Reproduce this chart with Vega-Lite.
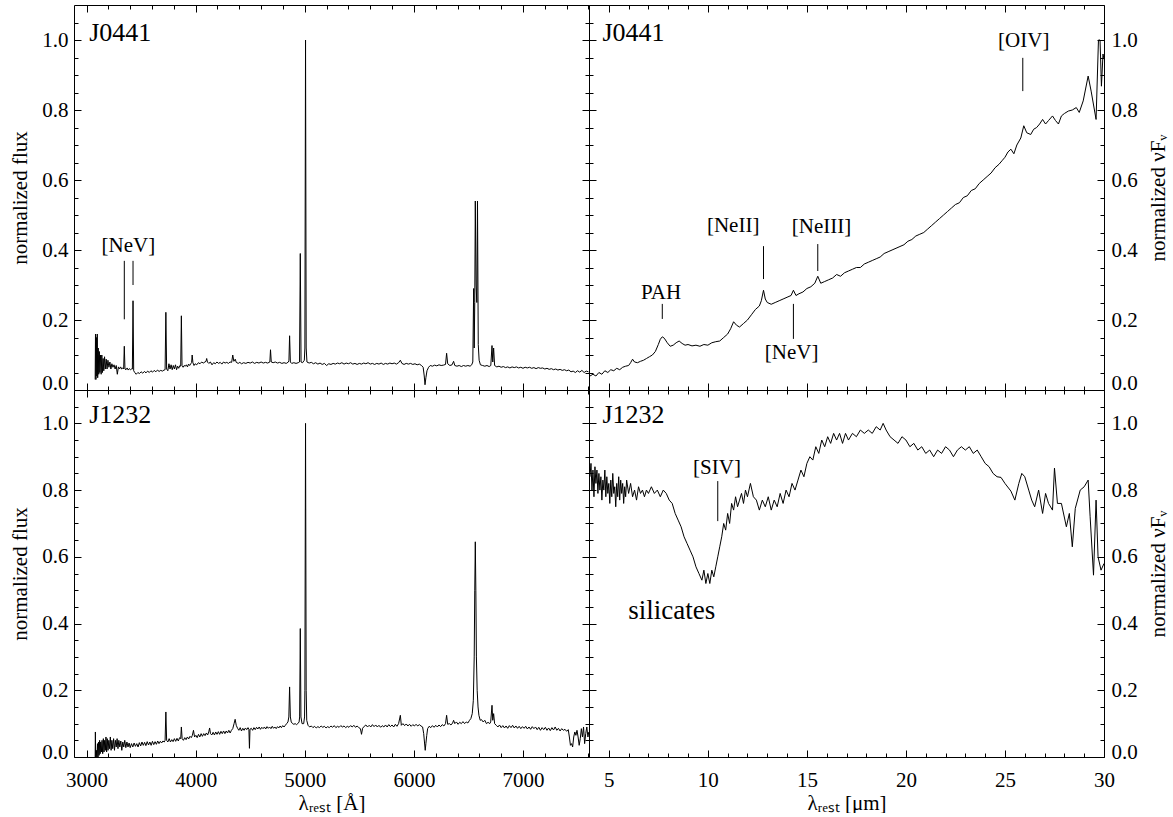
{
"$schema": "https://vega.github.io/schema/vega-lite/v6.json",
"background": "white",
"padding": {"left": 9, "top": 4, "right": 0, "bottom": 0},
"config": {
  "view": {"stroke": null},
  "axis": {"domain": false, "domainColor": "black", "domainWidth": 1, "grid": false, "tickColor": "black", "tickWidth": 1, "labelFont": "Liberation Serif", "labelFontSize": 21, "labelColor": "black", "titleFont": "Liberation Serif", "titleFontSize": 21, "titleFontWeight": "normal", "titleColor": "black", "labelOverlap": false, "labelFlush": false, "labelBound": false},
  "text": {"font": "Liberation Serif", "color": "black"}
},
"datasets": {
"lab": [
{"p":"TL","k":"name","x":3024,"y":1.019,"t":"J0441"},
{"p":"TL","k":"ann","x":3383,"y":0.411,"t":"[NeV]"},
{"p":"TR","k":"name","x":4.68,"y":1.019,"t":"J0441"},
{"p":"TR","k":"ann","x":7.64,"y":0.277,"t":"PAH"},
{"p":"TR","k":"ann","x":11.28,"y":0.469,"t":"[NeII]"},
{"p":"TR","k":"ann","x":15.74,"y":0.466,"t":"[NeIII]"},
{"p":"TR","k":"ann","x":14.23,"y":0.106,"t":"[NeV]"},
{"p":"TR","k":"ann","x":25.95,"y":0.997,"t":"[OIV]"},
{"p":"BL","k":"name","x":3024,"y":1.025,"t":"J1232"},
{"p":"BR","k":"name","x":4.68,"y":1.025,"t":"J1232"},
{"p":"BR","k":"ann","x":10.46,"y":0.866,"t":"[SIV]"},
{"p":"BR","k":"big","x":8.18,"y":0.438,"t":"silicates"}
],
"tk": [
{"p":"TL","x":3346,"y":0.202,"y2":0.369},
{"p":"TL","x":3426,"y":0.30,"y2":0.369},
{"p":"TR","x":7.7,"y":0.203,"y2":0.246},
{"p":"TR","x":12.81,"y":0.317,"y2":0.411},
{"p":"TR","x":15.55,"y":0.34,"y2":0.417},
{"p":"TR","x":14.32,"y":0.146,"y2":0.246},
{"p":"TR","x":25.9,"y":0.854,"y2":0.949},
{"p":"BR","x":10.5,"y":0.707,"y2":0.827}
],
"o1": [
{"x":3079,"y":0.03},{"x":3082,"y":0.16},{"x":3086,"y":0.03},{"x":3090,"y":0.15},{"x":3094,"y":0.04},{"x":3098,"y":0.16},{"x":3102,"y":0.035},{"x":3107,"y":0.12},{"x":3112,"y":0.045},{"x":3117,"y":0.11},{"x":3122,"y":0.05},{"x":3128,"y":0.1},{"x":3134,"y":0.045},{"x":3140,"y":0.1},{"x":3146,"y":0.05},{"x":3152,"y":0.09},{"x":3158,"y":0.055},{"x":3165,"y":0.095},{"x":3172,"y":0.06},{"x":3180,"y":0.088},{"x":3188,"y":0.06},{"x":3196,"y":0.085},{"x":3205,"y":0.065},{"x":3214,"y":0.08},{"x":3223,"y":0.06},{"x":3232,"y":0.075},{"x":3242,"y":0.065},{"x":3252,"y":0.072},{"x":3262,"y":0.06},{"x":3272,"y":0.07},{"x":3282,"y":0.045},{"x":3292,"y":0.066},{"x":3302,"y":0.06},{"x":3312,"y":0.066},{"x":3322,"y":0.06},{"x":3332,"y":0.063},{"x":3340,"y":0.06},{"x":3346,"y":0.125},{"x":3352,"y":0.06},{"x":3362,"y":0.058},{"x":3372,"y":0.063},{"x":3382,"y":0.057},{"x":3392,"y":0.061},{"x":3402,"y":0.058},{"x":3412,"y":0.06},{"x":3420,"y":0.06},{"x":3426,"y":0.255},{"x":3432,"y":0.055},{"x":3442,"y":0.05},{"x":3455,"y":0.045},{"x":3470,"y":0.05},{"x":3485,"y":0.047},{"x":3500,"y":0.052},{"x":3515,"y":0.048},{"x":3530,"y":0.053},{"x":3545,"y":0.049},{"x":3560,"y":0.054},{"x":3575,"y":0.05},{"x":3590,"y":0.055},{"x":3605,"y":0.051},{"x":3620,"y":0.056},{"x":3635,"y":0.052},{"x":3650,"y":0.057},{"x":3665,"y":0.053},{"x":3680,"y":0.056},{"x":3695,"y":0.054},{"x":3710,"y":0.057},{"x":3720,"y":0.058},{"x":3727,"y":0.222},{"x":3734,"y":0.06},{"x":3745,"y":0.055},{"x":3755,"y":0.075},{"x":3765,"y":0.06},{"x":3775,"y":0.072},{"x":3785,"y":0.058},{"x":3795,"y":0.07},{"x":3805,"y":0.06},{"x":3815,"y":0.072},{"x":3825,"y":0.058},{"x":3835,"y":0.068},{"x":3845,"y":0.062},{"x":3855,"y":0.07},{"x":3863,"y":0.068},{"x":3869,"y":0.212},{"x":3875,"y":0.07},{"x":3885,"y":0.065},{"x":3895,"y":0.07},{"x":3905,"y":0.068},{"x":3915,"y":0.072},{"x":3925,"y":0.066},{"x":3935,"y":0.074},{"x":3945,"y":0.07},{"x":3955,"y":0.075},{"x":3963,"y":0.078},{"x":3968,"y":0.1},{"x":3975,"y":0.078},{"x":3985,"y":0.07},{"x":3995,"y":0.075},{"x":4010,"y":0.072},{"x":4025,"y":0.078},{"x":4040,"y":0.075},{"x":4055,"y":0.08},{"x":4070,"y":0.077},{"x":4085,"y":0.08},{"x":4095,"y":0.082},{"x":4101,"y":0.09},{"x":4108,"y":0.08},{"x":4120,"y":0.076},{"x":4135,"y":0.08},{"x":4150,"y":0.072},{"x":4165,"y":0.078},{"x":4180,"y":0.075},{"x":4195,"y":0.08},{"x":4210,"y":0.076},{"x":4225,"y":0.079},{"x":4240,"y":0.074},{"x":4255,"y":0.08},{"x":4270,"y":0.077},{"x":4285,"y":0.079},{"x":4300,"y":0.076},{"x":4315,"y":0.08},{"x":4330,"y":0.079},{"x":4340,"y":0.1},{"x":4350,"y":0.082},{"x":4363,"y":0.088},{"x":4372,"y":0.079},{"x":4390,"y":0.076},{"x":4405,"y":0.079},{"x":4420,"y":0.075},{"x":4440,"y":0.078},{"x":4460,"y":0.076},{"x":4480,"y":0.079},{"x":4500,"y":0.077},{"x":4520,"y":0.08},{"x":4540,"y":0.076},{"x":4560,"y":0.079},{"x":4580,"y":0.077},{"x":4600,"y":0.08},{"x":4620,"y":0.077},{"x":4640,"y":0.079},{"x":4660,"y":0.077},{"x":4680,"y":0.08},{"x":4686,"y":0.115},{"x":4693,"y":0.08},{"x":4710,"y":0.078},{"x":4730,"y":0.08},{"x":4750,"y":0.077},{"x":4770,"y":0.079},{"x":4790,"y":0.076},{"x":4810,"y":0.078},{"x":4830,"y":0.076},{"x":4850,"y":0.08},{"x":4855,"y":0.085},{"x":4861,"y":0.155},{"x":4868,"y":0.08},{"x":4880,"y":0.076},{"x":4900,"y":0.078},{"x":4920,"y":0.076},{"x":4940,"y":0.078},{"x":4952,"y":0.08},{"x":4959,"y":0.39},{"x":4966,"y":0.08},{"x":4980,"y":0.078},{"x":4996,"y":0.085},{"x":5001,"y":0.12},{"x":5007,"y":1.0},{"x":5013,"y":0.12},{"x":5020,"y":0.08},{"x":5040,"y":0.077},{"x":5060,"y":0.079},{"x":5080,"y":0.075},{"x":5100,"y":0.078},{"x":5120,"y":0.074},{"x":5140,"y":0.077},{"x":5160,"y":0.073},{"x":5180,"y":0.076},{"x":5200,"y":0.07},{"x":5220,"y":0.075},{"x":5240,"y":0.073},{"x":5260,"y":0.076},{"x":5280,"y":0.074},{"x":5300,"y":0.077},{"x":5320,"y":0.075},{"x":5340,"y":0.078},{"x":5360,"y":0.074},{"x":5380,"y":0.077},{"x":5400,"y":0.075},{"x":5420,"y":0.078},{"x":5440,"y":0.074},{"x":5460,"y":0.076},{"x":5480,"y":0.073},{"x":5500,"y":0.076},{"x":5520,"y":0.074},{"x":5540,"y":0.077},{"x":5560,"y":0.075},{"x":5580,"y":0.078},{"x":5600,"y":0.074},{"x":5620,"y":0.076},{"x":5640,"y":0.073},{"x":5660,"y":0.076},{"x":5680,"y":0.074},{"x":5700,"y":0.077},{"x":5720,"y":0.073},{"x":5740,"y":0.076},{"x":5760,"y":0.074},{"x":5780,"y":0.077},{"x":5800,"y":0.075},{"x":5820,"y":0.077},{"x":5840,"y":0.074},{"x":5860,"y":0.078},{"x":5876,"y":0.085},{"x":5890,"y":0.076},{"x":5910,"y":0.073},{"x":5930,"y":0.076},{"x":5950,"y":0.074},{"x":5970,"y":0.076},{"x":5990,"y":0.073},{"x":6010,"y":0.075},{"x":6030,"y":0.072},{"x":6050,"y":0.074},{"x":6070,"y":0.07},{"x":6085,"y":0.065},{"x":6095,"y":0.04},{"x":6102,"y":0.015},{"x":6110,"y":0.035},{"x":6120,"y":0.055},{"x":6135,"y":0.065},{"x":6150,"y":0.07},{"x":6170,"y":0.068},{"x":6190,"y":0.071},{"x":6210,"y":0.069},{"x":6230,"y":0.072},{"x":6250,"y":0.07},{"x":6270,"y":0.071},{"x":6290,"y":0.073},{"x":6300,"y":0.105},{"x":6310,"y":0.075},{"x":6330,"y":0.07},{"x":6350,"y":0.072},{"x":6364,"y":0.082},{"x":6375,"y":0.07},{"x":6395,"y":0.068},{"x":6415,"y":0.07},{"x":6435,"y":0.067},{"x":6455,"y":0.07},{"x":6475,"y":0.068},{"x":6495,"y":0.07},{"x":6515,"y":0.068},{"x":6530,"y":0.072},{"x":6540,"y":0.08},{"x":6548,"y":0.29},{"x":6553,"y":0.12},{"x":6558,"y":0.25},{"x":6563,"y":0.54},{"x":6570,"y":0.3},{"x":6577,"y":0.25},{"x":6583,"y":0.54},{"x":6590,"y":0.13},{"x":6598,"y":0.085},{"x":6610,"y":0.072},{"x":6630,"y":0.07},{"x":6650,"y":0.068},{"x":6670,"y":0.07},{"x":6690,"y":0.067},{"x":6705,"y":0.07},{"x":6716,"y":0.127},{"x":6723,"y":0.08},{"x":6731,"y":0.12},{"x":6740,"y":0.07},{"x":6760,"y":0.066},{"x":6780,"y":0.068},{"x":6800,"y":0.065},{"x":6820,"y":0.067},{"x":6840,"y":0.064},{"x":6860,"y":0.066},{"x":6880,"y":0.063},{"x":6900,"y":0.066},{"x":6920,"y":0.064},{"x":6940,"y":0.066},{"x":6960,"y":0.063},{"x":6980,"y":0.065},{"x":7000,"y":0.062},{"x":7020,"y":0.065},{"x":7040,"y":0.063},{"x":7060,"y":0.065},{"x":7080,"y":0.062},{"x":7100,"y":0.064},{"x":7120,"y":0.061},{"x":7140,"y":0.064},{"x":7160,"y":0.062},{"x":7180,"y":0.063},{"x":7200,"y":0.06},{"x":7220,"y":0.062},{"x":7240,"y":0.059},{"x":7260,"y":0.061},{"x":7280,"y":0.058},{"x":7300,"y":0.06},{"x":7320,"y":0.057},{"x":7340,"y":0.059},{"x":7360,"y":0.056},{"x":7380,"y":0.058},{"x":7400,"y":0.055},{"x":7420,"y":0.057},{"x":7440,"y":0.052},{"x":7460,"y":0.054},{"x":7480,"y":0.05},{"x":7500,"y":0.055},{"x":7520,"y":0.051},{"x":7540,"y":0.056},{"x":7560,"y":0.05},{"x":7580,"y":0.054},{"x":7600,"y":0.052}
],
"o2": [
{"x":3079,"y":0.0},{"x":3081,"y":0.075},{"x":3084,"y":-0.01},{"x":3090,"y":0.02},{"x":3095,"y":-0.01},{"x":3100,"y":0.04},{"x":3105,"y":0.0},{"x":3110,"y":0.045},{"x":3115,"y":0.005},{"x":3120,"y":0.05},{"x":3125,"y":0.01},{"x":3130,"y":0.045},{"x":3136,"y":0.015},{"x":3142,"y":0.05},{"x":3148,"y":0.01},{"x":3154,"y":0.055},{"x":3160,"y":0.015},{"x":3166,"y":0.05},{"x":3172,"y":0.02},{"x":3178,"y":0.06},{"x":3184,"y":0.015},{"x":3190,"y":0.055},{"x":3197,"y":0.02},{"x":3204,"y":0.05},{"x":3211,"y":0.025},{"x":3218,"y":0.06},{"x":3225,"y":0.02},{"x":3232,"y":0.05},{"x":3240,"y":0.025},{"x":3248,"y":0.055},{"x":3256,"y":0.02},{"x":3264,"y":0.05},{"x":3272,"y":0.03},{"x":3280,"y":0.055},{"x":3288,"y":0.025},{"x":3296,"y":0.05},{"x":3305,"y":0.03},{"x":3314,"y":0.048},{"x":3323,"y":0.02},{"x":3332,"y":0.045},{"x":3341,"y":0.03},{"x":3350,"y":0.05},{"x":3360,"y":0.028},{"x":3370,"y":0.045},{"x":3380,"y":0.03},{"x":3390,"y":0.042},{"x":3400,"y":0.028},{"x":3412,"y":0.04},{"x":3424,"y":0.03},{"x":3436,"y":0.042},{"x":3448,"y":0.032},{"x":3460,"y":0.04},{"x":3472,"y":0.03},{"x":3484,"y":0.043},{"x":3496,"y":0.033},{"x":3508,"y":0.045},{"x":3520,"y":0.035},{"x":3532,"y":0.044},{"x":3544,"y":0.034},{"x":3556,"y":0.046},{"x":3568,"y":0.036},{"x":3580,"y":0.045},{"x":3592,"y":0.035},{"x":3604,"y":0.047},{"x":3616,"y":0.037},{"x":3628,"y":0.046},{"x":3640,"y":0.038},{"x":3652,"y":0.048},{"x":3664,"y":0.04},{"x":3676,"y":0.047},{"x":3688,"y":0.042},{"x":3700,"y":0.048},{"x":3712,"y":0.045},{"x":3720,"y":0.05},{"x":3727,"y":0.135},{"x":3734,"y":0.05},{"x":3745,"y":0.045},{"x":3757,"y":0.055},{"x":3769,"y":0.045},{"x":3781,"y":0.052},{"x":3793,"y":0.046},{"x":3805,"y":0.055},{"x":3817,"y":0.047},{"x":3829,"y":0.056},{"x":3841,"y":0.048},{"x":3853,"y":0.058},{"x":3863,"y":0.055},{"x":3869,"y":0.09},{"x":3876,"y":0.055},{"x":3888,"y":0.05},{"x":3900,"y":0.058},{"x":3912,"y":0.052},{"x":3924,"y":0.06},{"x":3936,"y":0.054},{"x":3948,"y":0.062},{"x":3960,"y":0.058},{"x":3970,"y":0.065},{"x":3980,"y":0.08},{"x":3990,"y":0.06},{"x":4002,"y":0.065},{"x":4014,"y":0.058},{"x":4026,"y":0.068},{"x":4038,"y":0.06},{"x":4050,"y":0.07},{"x":4062,"y":0.062},{"x":4074,"y":0.07},{"x":4086,"y":0.064},{"x":4098,"y":0.072},{"x":4110,"y":0.066},{"x":4120,"y":0.075},{"x":4128,"y":0.087},{"x":4136,"y":0.07},{"x":4148,"y":0.066},{"x":4160,"y":0.074},{"x":4172,"y":0.066},{"x":4184,"y":0.075},{"x":4196,"y":0.068},{"x":4208,"y":0.076},{"x":4220,"y":0.068},{"x":4232,"y":0.077},{"x":4244,"y":0.07},{"x":4256,"y":0.078},{"x":4268,"y":0.07},{"x":4280,"y":0.078},{"x":4292,"y":0.072},{"x":4304,"y":0.08},{"x":4316,"y":0.072},{"x":4328,"y":0.08},{"x":4340,"y":0.085},{"x":4352,"y":0.1},{"x":4362,"y":0.113},{"x":4372,"y":0.095},{"x":4384,"y":0.086},{"x":4396,"y":0.08},{"x":4408,"y":0.088},{"x":4420,"y":0.078},{"x":4432,"y":0.086},{"x":4444,"y":0.08},{"x":4456,"y":0.087},{"x":4468,"y":0.082},{"x":4480,"y":0.088},{"x":4488,"y":0.083},{"x":4493,"y":0.026},{"x":4498,"y":0.083},{"x":4510,"y":0.086},{"x":4522,"y":0.08},{"x":4534,"y":0.088},{"x":4546,"y":0.082},{"x":4558,"y":0.089},{"x":4570,"y":0.084},{"x":4582,"y":0.09},{"x":4594,"y":0.083},{"x":4606,"y":0.089},{"x":4618,"y":0.085},{"x":4630,"y":0.09},{"x":4642,"y":0.084},{"x":4654,"y":0.091},{"x":4666,"y":0.086},{"x":4678,"y":0.09},{"x":4690,"y":0.085},{"x":4702,"y":0.092},{"x":4714,"y":0.086},{"x":4726,"y":0.09},{"x":4738,"y":0.085},{"x":4750,"y":0.091},{"x":4762,"y":0.087},{"x":4774,"y":0.093},{"x":4786,"y":0.088},{"x":4798,"y":0.094},{"x":4810,"y":0.09},{"x":4822,"y":0.095},{"x":4834,"y":0.1},{"x":4846,"y":0.105},{"x":4854,"y":0.12},{"x":4861,"y":0.21},{"x":4868,"y":0.12},{"x":4876,"y":0.105},{"x":4888,"y":0.1},{"x":4900,"y":0.098},{"x":4912,"y":0.1},{"x":4924,"y":0.097},{"x":4936,"y":0.1},{"x":4948,"y":0.105},{"x":4953,"y":0.12},{"x":4959,"y":0.385},{"x":4965,"y":0.12},{"x":4975,"y":0.1},{"x":4990,"y":0.1},{"x":4998,"y":0.12},{"x":5001,"y":0.2},{"x":5007,"y":1.0},{"x":5013,"y":0.2},{"x":5018,"y":0.11},{"x":5030,"y":0.095},{"x":5045,"y":0.09},{"x":5060,"y":0.093},{"x":5075,"y":0.088},{"x":5090,"y":0.092},{"x":5105,"y":0.087},{"x":5120,"y":0.091},{"x":5135,"y":0.088},{"x":5150,"y":0.093},{"x":5165,"y":0.089},{"x":5180,"y":0.092},{"x":5195,"y":0.087},{"x":5210,"y":0.091},{"x":5225,"y":0.088},{"x":5240,"y":0.093},{"x":5255,"y":0.089},{"x":5270,"y":0.094},{"x":5285,"y":0.088},{"x":5300,"y":0.092},{"x":5315,"y":0.089},{"x":5330,"y":0.094},{"x":5345,"y":0.09},{"x":5360,"y":0.093},{"x":5375,"y":0.088},{"x":5390,"y":0.092},{"x":5405,"y":0.089},{"x":5420,"y":0.094},{"x":5435,"y":0.09},{"x":5450,"y":0.095},{"x":5465,"y":0.089},{"x":5480,"y":0.093},{"x":5495,"y":0.088},{"x":5510,"y":0.085},{"x":5520,"y":0.068},{"x":5530,"y":0.086},{"x":5545,"y":0.092},{"x":5560,"y":0.096},{"x":5575,"y":0.09},{"x":5590,"y":0.095},{"x":5605,"y":0.09},{"x":5620,"y":0.097},{"x":5635,"y":0.091},{"x":5650,"y":0.096},{"x":5665,"y":0.09},{"x":5680,"y":0.095},{"x":5695,"y":0.089},{"x":5710,"y":0.094},{"x":5725,"y":0.09},{"x":5740,"y":0.096},{"x":5755,"y":0.09},{"x":5770,"y":0.097},{"x":5785,"y":0.091},{"x":5800,"y":0.096},{"x":5815,"y":0.09},{"x":5830,"y":0.098},{"x":5845,"y":0.092},{"x":5860,"y":0.1},{"x":5876,"y":0.125},{"x":5885,"y":0.095},{"x":5900,"y":0.1},{"x":5915,"y":0.094},{"x":5930,"y":0.099},{"x":5945,"y":0.093},{"x":5960,"y":0.098},{"x":5975,"y":0.092},{"x":5990,"y":0.097},{"x":6005,"y":0.093},{"x":6020,"y":0.098},{"x":6035,"y":0.093},{"x":6050,"y":0.097},{"x":6065,"y":0.093},{"x":6080,"y":0.09},{"x":6090,"y":0.07},{"x":6097,"y":0.045},{"x":6104,"y":0.02},{"x":6110,"y":0.04},{"x":6118,"y":0.065},{"x":6126,"y":0.085},{"x":6140,"y":0.092},{"x":6155,"y":0.088},{"x":6170,"y":0.094},{"x":6185,"y":0.089},{"x":6200,"y":0.095},{"x":6215,"y":0.09},{"x":6230,"y":0.096},{"x":6245,"y":0.091},{"x":6260,"y":0.097},{"x":6275,"y":0.093},{"x":6290,"y":0.1},{"x":6300,"y":0.125},{"x":6310,"y":0.098},{"x":6325,"y":0.1},{"x":6340,"y":0.096},{"x":6355,"y":0.102},{"x":6364,"y":0.11},{"x":6375,"y":0.1},{"x":6390,"y":0.105},{"x":6405,"y":0.098},{"x":6420,"y":0.104},{"x":6435,"y":0.1},{"x":6450,"y":0.106},{"x":6465,"y":0.1},{"x":6480,"y":0.105},{"x":6495,"y":0.102},{"x":6510,"y":0.11},{"x":6522,"y":0.115},{"x":6535,"y":0.13},{"x":6545,"y":0.17},{"x":6553,"y":0.3},{"x":6558,"y":0.5},{"x":6563,"y":0.645},{"x":6568,"y":0.5},{"x":6573,"y":0.3},{"x":6580,"y":0.2},{"x":6588,"y":0.15},{"x":6596,"y":0.125},{"x":6608,"y":0.11},{"x":6620,"y":0.112},{"x":6635,"y":0.105},{"x":6650,"y":0.11},{"x":6665,"y":0.1},{"x":6680,"y":0.104},{"x":6695,"y":0.1},{"x":6704,"y":0.105},{"x":6716,"y":0.155},{"x":6723,"y":0.11},{"x":6731,"y":0.13},{"x":6740,"y":0.1},{"x":6755,"y":0.095},{"x":6770,"y":0.09},{"x":6785,"y":0.096},{"x":6800,"y":0.088},{"x":6815,"y":0.094},{"x":6830,"y":0.087},{"x":6845,"y":0.093},{"x":6860,"y":0.086},{"x":6875,"y":0.094},{"x":6890,"y":0.088},{"x":6905,"y":0.095},{"x":6920,"y":0.087},{"x":6935,"y":0.093},{"x":6950,"y":0.086},{"x":6965,"y":0.092},{"x":6980,"y":0.085},{"x":6995,"y":0.091},{"x":7010,"y":0.086},{"x":7025,"y":0.092},{"x":7040,"y":0.084},{"x":7055,"y":0.09},{"x":7070,"y":0.083},{"x":7085,"y":0.091},{"x":7100,"y":0.085},{"x":7115,"y":0.09},{"x":7130,"y":0.082},{"x":7145,"y":0.089},{"x":7160,"y":0.08},{"x":7175,"y":0.088},{"x":7190,"y":0.082},{"x":7205,"y":0.089},{"x":7220,"y":0.08},{"x":7235,"y":0.087},{"x":7250,"y":0.079},{"x":7265,"y":0.088},{"x":7280,"y":0.081},{"x":7295,"y":0.09},{"x":7310,"y":0.08},{"x":7325,"y":0.086},{"x":7340,"y":0.078},{"x":7355,"y":0.085},{"x":7370,"y":0.08},{"x":7385,"y":0.083},{"x":7400,"y":0.077},{"x":7415,"y":0.082},{"x":7425,"y":0.06},{"x":7435,"y":0.035},{"x":7445,"y":0.04},{"x":7455,"y":0.03},{"x":7465,"y":0.06},{"x":7475,"y":0.075},{"x":7485,"y":0.065},{"x":7495,"y":0.08},{"x":7505,"y":0.06},{"x":7515,"y":0.035},{"x":7525,"y":0.055},{"x":7535,"y":0.085},{"x":7545,"y":0.06},{"x":7555,"y":0.09},{"x":7565,"y":0.04},{"x":7575,"y":0.07},{"x":7585,"y":0.09},{"x":7595,"y":0.06},{"x":7603,"y":0.075}
],
"i1": [
{"x":4.05,"y":0.04},{"x":4.2,"y":0.045},{"x":4.35,"y":0.04},{"x":4.5,"y":0.05},{"x":4.65,"y":0.045},{"x":4.8,"y":0.055},{"x":4.95,"y":0.05},{"x":5.1,"y":0.058},{"x":5.25,"y":0.055},{"x":5.4,"y":0.062},{"x":5.55,"y":0.058},{"x":5.7,"y":0.065},{"x":5.85,"y":0.068},{"x":6.0,"y":0.07},{"x":6.1,"y":0.078},{"x":6.2,"y":0.088},{"x":6.3,"y":0.08},{"x":6.45,"y":0.078},{"x":6.6,"y":0.082},{"x":6.75,"y":0.085},{"x":6.9,"y":0.09},{"x":7.05,"y":0.095},{"x":7.2,"y":0.1},{"x":7.35,"y":0.11},{"x":7.5,"y":0.13},{"x":7.6,"y":0.145},{"x":7.7,"y":0.152},{"x":7.8,"y":0.148},{"x":7.95,"y":0.135},{"x":8.1,"y":0.125},{"x":8.25,"y":0.128},{"x":8.4,"y":0.135},{"x":8.55,"y":0.14},{"x":8.7,"y":0.133},{"x":8.85,"y":0.128},{"x":9.0,"y":0.13},{"x":9.2,"y":0.126},{"x":9.4,"y":0.128},{"x":9.6,"y":0.125},{"x":9.8,"y":0.13},{"x":10.0,"y":0.128},{"x":10.2,"y":0.135},{"x":10.4,"y":0.138},{"x":10.6,"y":0.14},{"x":10.8,"y":0.15},{"x":11.0,"y":0.16},{"x":11.15,"y":0.175},{"x":11.3,"y":0.195},{"x":11.45,"y":0.185},{"x":11.6,"y":0.18},{"x":11.8,"y":0.19},{"x":12.0,"y":0.2},{"x":12.2,"y":0.215},{"x":12.4,"y":0.23},{"x":12.6,"y":0.24},{"x":12.7,"y":0.255},{"x":12.81,"y":0.285},{"x":12.9,"y":0.26},{"x":13.0,"y":0.25},{"x":13.2,"y":0.245},{"x":13.4,"y":0.25},{"x":13.6,"y":0.255},{"x":13.8,"y":0.26},{"x":14.0,"y":0.265},{"x":14.2,"y":0.27},{"x":14.32,"y":0.285},{"x":14.45,"y":0.27},{"x":14.6,"y":0.275},{"x":14.8,"y":0.28},{"x":15.0,"y":0.29},{"x":15.2,"y":0.295},{"x":15.4,"y":0.305},{"x":15.55,"y":0.325},{"x":15.7,"y":0.305},{"x":15.9,"y":0.31},{"x":16.1,"y":0.315},{"x":16.3,"y":0.32},{"x":16.5,"y":0.33},{"x":16.7,"y":0.325},{"x":16.9,"y":0.335},{"x":17.1,"y":0.34},{"x":17.3,"y":0.345},{"x":17.5,"y":0.35},{"x":17.7,"y":0.35},{"x":17.9,"y":0.36},{"x":18.1,"y":0.365},{"x":18.3,"y":0.37},{"x":18.5,"y":0.375},{"x":18.7,"y":0.38},{"x":18.9,"y":0.39},{"x":19.1,"y":0.395},{"x":19.3,"y":0.4},{"x":19.5,"y":0.405},{"x":19.7,"y":0.41},{"x":19.9,"y":0.415},{"x":20.1,"y":0.425},{"x":20.3,"y":0.43},{"x":20.5,"y":0.44},{"x":20.7,"y":0.445},{"x":20.9,"y":0.45},{"x":21.1,"y":0.46},{"x":21.3,"y":0.47},{"x":21.5,"y":0.48},{"x":21.7,"y":0.49},{"x":21.9,"y":0.5},{"x":22.1,"y":0.51},{"x":22.3,"y":0.52},{"x":22.5,"y":0.53},{"x":22.7,"y":0.535},{"x":22.9,"y":0.55},{"x":23.1,"y":0.555},{"x":23.3,"y":0.57},{"x":23.5,"y":0.575},{"x":23.7,"y":0.59},{"x":23.9,"y":0.6},{"x":24.1,"y":0.61},{"x":24.3,"y":0.62},{"x":24.5,"y":0.635},{"x":24.7,"y":0.645},{"x":24.85,"y":0.655},{"x":25.0,"y":0.665},{"x":25.15,"y":0.68},{"x":25.3,"y":0.688},{"x":25.45,"y":0.675},{"x":25.6,"y":0.7},{"x":25.8,"y":0.72},{"x":25.95,"y":0.755},{"x":26.1,"y":0.735},{"x":26.3,"y":0.73},{"x":26.45,"y":0.745},{"x":26.6,"y":0.75},{"x":26.75,"y":0.76},{"x":26.9,"y":0.773},{"x":27.05,"y":0.76},{"x":27.2,"y":0.77},{"x":27.4,"y":0.783},{"x":27.55,"y":0.77},{"x":27.7,"y":0.76},{"x":27.85,"y":0.783},{"x":28.0,"y":0.79},{"x":28.2,"y":0.797},{"x":28.4,"y":0.8},{"x":28.6,"y":0.807},{"x":28.75,"y":0.793},{"x":28.95,"y":0.826},{"x":29.2,"y":0.897},{"x":29.35,"y":0.854},{"x":29.6,"y":0.773},{"x":29.72,"y":1.0},{"x":29.8,"y":1.0},{"x":29.87,"y":0.868},{"x":29.95,"y":0.96},{"x":30.0,"y":0.945}
],
"i2": [
{"x":4.05,"y":0.84},{"x":4.1,"y":0.88},{"x":4.15,"y":0.8},{"x":4.2,"y":0.86},{"x":4.25,"y":0.78},{"x":4.3,"y":0.87},{"x":4.35,"y":0.82},{"x":4.4,"y":0.86},{"x":4.45,"y":0.79},{"x":4.5,"y":0.85},{"x":4.55,"y":0.8},{"x":4.6,"y":0.84},{"x":4.65,"y":0.77},{"x":4.7,"y":0.83},{"x":4.75,"y":0.8},{"x":4.8,"y":0.86},{"x":4.85,"y":0.78},{"x":4.9,"y":0.84},{"x":4.95,"y":0.79},{"x":5.0,"y":0.82},{"x":5.05,"y":0.76},{"x":5.1,"y":0.83},{"x":5.15,"y":0.78},{"x":5.2,"y":0.85},{"x":5.25,"y":0.79},{"x":5.3,"y":0.81},{"x":5.35,"y":0.75},{"x":5.4,"y":0.82},{"x":5.45,"y":0.78},{"x":5.5,"y":0.84},{"x":5.55,"y":0.77},{"x":5.6,"y":0.83},{"x":5.65,"y":0.79},{"x":5.7,"y":0.82},{"x":5.75,"y":0.76},{"x":5.8,"y":0.81},{"x":5.85,"y":0.78},{"x":5.9,"y":0.83},{"x":6.0,"y":0.79},{"x":6.1,"y":0.82},{"x":6.2,"y":0.78},{"x":6.3,"y":0.8},{"x":6.4,"y":0.77},{"x":6.5,"y":0.81},{"x":6.6,"y":0.79},{"x":6.7,"y":0.8},{"x":6.8,"y":0.78},{"x":6.9,"y":0.8},{"x":7.0,"y":0.79},{"x":7.15,"y":0.81},{"x":7.3,"y":0.79},{"x":7.45,"y":0.8},{"x":7.6,"y":0.78},{"x":7.75,"y":0.8},{"x":7.9,"y":0.79},{"x":8.05,"y":0.77},{"x":8.2,"y":0.76},{"x":8.35,"y":0.73},{"x":8.5,"y":0.71},{"x":8.65,"y":0.69},{"x":8.8,"y":0.66},{"x":8.95,"y":0.64},{"x":9.1,"y":0.62},{"x":9.25,"y":0.6},{"x":9.4,"y":0.57},{"x":9.55,"y":0.55},{"x":9.7,"y":0.53},{"x":9.8,"y":0.56},{"x":9.9,"y":0.52},{"x":10.0,"y":0.55},{"x":10.1,"y":0.52},{"x":10.2,"y":0.56},{"x":10.3,"y":0.54},{"x":10.4,"y":0.57},{"x":10.5,"y":0.6},{"x":10.6,"y":0.63},{"x":10.7,"y":0.66},{"x":10.8,"y":0.7},{"x":10.9,"y":0.68},{"x":11.0,"y":0.73},{"x":11.1,"y":0.7},{"x":11.2,"y":0.76},{"x":11.3,"y":0.74},{"x":11.4,"y":0.78},{"x":11.5,"y":0.75},{"x":11.6,"y":0.77},{"x":11.7,"y":0.79},{"x":11.8,"y":0.76},{"x":11.9,"y":0.8},{"x":12.0,"y":0.78},{"x":12.15,"y":0.82},{"x":12.3,"y":0.78},{"x":12.45,"y":0.77},{"x":12.6,"y":0.74},{"x":12.75,"y":0.77},{"x":12.9,"y":0.75},{"x":13.05,"y":0.78},{"x":13.2,"y":0.74},{"x":13.35,"y":0.77},{"x":13.5,"y":0.75},{"x":13.65,"y":0.79},{"x":13.8,"y":0.76},{"x":13.95,"y":0.8},{"x":14.1,"y":0.78},{"x":14.25,"y":0.82},{"x":14.4,"y":0.8},{"x":14.55,"y":0.83},{"x":14.7,"y":0.86},{"x":14.85,"y":0.84},{"x":15.0,"y":0.88},{"x":15.15,"y":0.9},{"x":15.3,"y":0.89},{"x":15.45,"y":0.93},{"x":15.6,"y":0.91},{"x":15.75,"y":0.95},{"x":15.9,"y":0.93},{"x":16.05,"y":0.96},{"x":16.2,"y":0.94},{"x":16.35,"y":0.97},{"x":16.5,"y":0.95},{"x":16.65,"y":0.97},{"x":16.8,"y":0.94},{"x":16.95,"y":0.97},{"x":17.1,"y":0.95},{"x":17.3,"y":0.97},{"x":17.5,"y":0.96},{"x":17.7,"y":0.98},{"x":17.9,"y":0.97},{"x":18.1,"y":0.98},{"x":18.3,"y":0.97},{"x":18.5,"y":0.99},{"x":18.7,"y":0.98},{"x":18.85,"y":1.0},{"x":19.0,"y":0.98},{"x":19.2,"y":0.96},{"x":19.4,"y":0.95},{"x":19.6,"y":0.94},{"x":19.8,"y":0.96},{"x":20.0,"y":0.95},{"x":20.2,"y":0.93},{"x":20.4,"y":0.94},{"x":20.6,"y":0.92},{"x":20.8,"y":0.93},{"x":21.0,"y":0.91},{"x":21.2,"y":0.92},{"x":21.4,"y":0.9},{"x":21.6,"y":0.92},{"x":21.8,"y":0.91},{"x":22.0,"y":0.93},{"x":22.2,"y":0.92},{"x":22.4,"y":0.9},{"x":22.6,"y":0.92},{"x":22.8,"y":0.93},{"x":23.0,"y":0.92},{"x":23.2,"y":0.93},{"x":23.4,"y":0.91},{"x":23.6,"y":0.92},{"x":23.8,"y":0.9},{"x":24.0,"y":0.88},{"x":24.2,"y":0.87},{"x":24.4,"y":0.85},{"x":24.6,"y":0.84},{"x":24.8,"y":0.838},{"x":25.0,"y":0.82},{"x":25.3,"y":0.797},{"x":25.5,"y":0.77},{"x":25.7,"y":0.82},{"x":25.85,"y":0.85},{"x":26.0,"y":0.84},{"x":26.2,"y":0.8},{"x":26.35,"y":0.77},{"x":26.5,"y":0.75},{"x":26.7,"y":0.8},{"x":26.9,"y":0.73},{"x":27.05,"y":0.79},{"x":27.2,"y":0.76},{"x":27.4,"y":0.74},{"x":27.5,"y":0.866},{"x":27.65,"y":0.76},{"x":27.85,"y":0.76},{"x":28.1,"y":0.69},{"x":28.25,"y":0.73},{"x":28.4,"y":0.63},{"x":28.55,"y":0.745},{"x":28.8,"y":0.8},{"x":29.0,"y":0.81},{"x":29.2,"y":0.83},{"x":29.3,"y":0.72},{"x":29.47,"y":0.545},{"x":29.6,"y":0.77},{"x":29.7,"y":0.6},{"x":29.85,"y":0.56},{"x":30.0,"y":0.58}
]
},
"columns": 2,
"spacing": 0,
"bounds": "flush",
"concat": [
 {"width": 515, "height": 385, "resolve": {"axis": {"x": "independent", "y": "independent"}},
  "layer": [
   {"data": {"name": "o1"}, "mark": {"type": "line", "color": "black", "strokeWidth": 1, "clip": true},
    "encoding": {
     "x": {"field": "x", "type": "quantitative", "scale": {"domain": [2885, 7605], "nice": false}, "axis": {"orient": "bottom", "domain": true, "values": [3000,4000,5000,6000,7000], "tickSize": -7, "labels": false, "title": null}},
     "y": {"field": "y", "type": "quantitative", "scale": {"domain": [0, 1.1], "nice": false}, "axis": {"orient": "left", "domain": true, "values": [0,0.2,0.4,0.6,0.8,1.0], "tickSize": -7, "format": ".1f", "labelPadding": 13, "labelOffset": {"condition": {"test": "datum.value === 0", "value": -7}, "value": 0}, "title": "normalized flux", "titlePadding": 11}}}},
   {"data": {"name": "lab"}, "transform": [{"filter": "datum.p == 'TL' && datum.k == 'name'"}], "mark": {"type": "text", "fontSize": 26, "align": "left", "baseline": "middle"},
    "encoding": {
     "x": {"field": "x", "type": "quantitative", "scale": {"domain": [2885, 7605], "nice": false}, "axis": {"orient": "bottom", "values": [3200,3400,3600,3800,4200,4400,4600,4800,5200,5400,5600,5800,6200,6400,6600,6800,7200,7400,7600], "tickSize": -4, "labels": false, "title": null}},
     "y": {"field": "y", "type": "quantitative", "scale": {"domain": [0, 1.1], "nice": false}, "axis": {"orient": "left", "values": [0.05,0.1,0.15,0.25,0.3,0.35,0.45,0.5,0.55,0.65,0.7,0.75,0.85,0.9,0.95,1.05], "tickSize": -4, "labels": false, "title": null}},
     "text": {"field": "t"}}},
   {"data": {"name": "tk"}, "transform": [{"filter": "datum.p == 'TL'"}], "mark": {"type": "rule", "color": "black", "strokeWidth": 1},
    "encoding": {
     "x": {"field": "x", "type": "quantitative", "scale": {"domain": [2885, 7605], "nice": false}, "axis": {"orient": "top", "domain": true, "values": [3000,4000,5000,6000,7000], "tickSize": -7, "labels": false, "title": null}},
     "y": {"field": "y", "type": "quantitative", "scale": {"domain": [0, 1.1], "nice": false}, "axis": {"orient": "right", "domain": true, "values": [0,0.2,0.4,0.6,0.8,1.0], "tickSize": -7, "labels": false, "title": null}},
     "y2": {"field": "y2"}}},
   {"data": {"name": "lab"}, "transform": [{"filter": "datum.p == 'TL' && datum.k == 'ann'"}], "mark": {"type": "text", "fontSize": 21, "align": "center", "baseline": "middle"},
    "encoding": {
     "x": {"field": "x", "type": "quantitative", "scale": {"domain": [2885, 7605], "nice": false}, "axis": {"orient": "top", "values": [3200,3400,3600,3800,4200,4400,4600,4800,5200,5400,5600,5800,6200,6400,6600,6800,7200,7400,7600], "tickSize": -4, "labels": false, "title": null}},
     "y": {"field": "y", "type": "quantitative", "scale": {"domain": [0, 1.1], "nice": false}, "axis": {"orient": "right", "values": [0.05,0.1,0.15,0.25,0.3,0.35,0.45,0.5,0.55,0.65,0.7,0.75,0.85,0.9,0.95,1.05], "tickSize": -4, "labels": false, "title": null}},
     "text": {"field": "t"}}}
  ]},
 {"width": 515, "height": 385, "resolve": {"axis": {"x": "independent", "y": "independent"}},
  "layer": [
   {"data": {"name": "i1"}, "mark": {"type": "line", "color": "black", "strokeWidth": 1, "clip": true},
    "encoding": {
     "x": {"field": "x", "type": "quantitative", "scale": {"domain": [4, 30], "nice": false}, "axis": {"orient": "bottom", "domain": true, "values": [5,10,15,20,25,30], "tickSize": -7, "labels": false, "title": null}},
     "y": {"field": "y", "type": "quantitative", "scale": {"domain": [0, 1.1], "nice": false}, "axis": {"orient": "right", "domain": true, "values": [0,0.2,0.4,0.6,0.8,1.0], "tickSize": -7, "format": ".1f", "labelPadding": 14, "labelOffset": {"condition": {"test": "datum.value === 0", "value": -7}, "value": 0}, "title": "normalized νFᵥ", "titleAngle": 270, "titlePadding": 31}}}},
   {"data": {"name": "lab"}, "transform": [{"filter": "datum.p == 'TR' && datum.k == 'name'"}], "mark": {"type": "text", "fontSize": 26, "align": "left", "baseline": "middle"},
    "encoding": {
     "x": {"field": "x", "type": "quantitative", "scale": {"domain": [4, 30], "nice": false}, "axis": {"orient": "bottom", "values": [6,7,8,9,11,12,13,14,16,17,18,19,21,22,23,24,26,27,28,29], "tickSize": -4, "labels": false, "title": null}},
     "y": {"field": "y", "type": "quantitative", "scale": {"domain": [0, 1.1], "nice": false}, "axis": {"orient": "right", "values": [0.05,0.1,0.15,0.25,0.3,0.35,0.45,0.5,0.55,0.65,0.7,0.75,0.85,0.9,0.95,1.05], "tickSize": -4, "labels": false, "title": null}},
     "text": {"field": "t"}}},
   {"data": {"name": "tk"}, "transform": [{"filter": "datum.p == 'TR'"}], "mark": {"type": "rule", "color": "black", "strokeWidth": 1},
    "encoding": {
     "x": {"field": "x", "type": "quantitative", "scale": {"domain": [4, 30], "nice": false}, "axis": {"orient": "top", "domain": true, "values": [5,10,15,20,25,30], "tickSize": -7, "labels": false, "title": null}},
     "y": {"field": "y", "type": "quantitative", "scale": {"domain": [0, 1.1], "nice": false}, "axis": {"orient": "left", "domain": true, "values": [0,0.2,0.4,0.6,0.8,1.0], "tickSize": -7, "labels": false, "title": null}},
     "y2": {"field": "y2"}}},
   {"data": {"name": "lab"}, "transform": [{"filter": "datum.p == 'TR' && datum.k == 'ann'"}], "mark": {"type": "text", "fontSize": 21, "align": "center", "baseline": "middle"},
    "encoding": {
     "x": {"field": "x", "type": "quantitative", "scale": {"domain": [4, 30], "nice": false}, "axis": {"orient": "top", "values": [6,7,8,9,11,12,13,14,16,17,18,19,21,22,23,24,26,27,28,29], "tickSize": -4, "labels": false, "title": null}},
     "y": {"field": "y", "type": "quantitative", "scale": {"domain": [0, 1.1], "nice": false}, "axis": {"orient": "left", "values": [0.05,0.1,0.15,0.25,0.3,0.35,0.45,0.5,0.55,0.65,0.7,0.75,0.85,0.9,0.95,1.05], "tickSize": -4, "labels": false, "title": null}},
     "text": {"field": "t"}}}
  ]},
 {"width": 515, "height": 367, "resolve": {"axis": {"x": "independent", "y": "independent"}},
  "layer": [
   {"data": {"name": "o2"}, "mark": {"type": "line", "color": "black", "strokeWidth": 1, "clip": true},
    "encoding": {
     "x": {"field": "x", "type": "quantitative", "scale": {"domain": [2885, 7605], "nice": false}, "axis": {"orient": "bottom", "domain": true, "values": [3000,4000,5000,6000,7000], "tickSize": -7, "labelPadding": 19, "format": "d", "title": "λᵣₑₛₜ [Å]", "titlePadding": 2}},
     "y": {"field": "y", "type": "quantitative", "scale": {"domain": [0, 1.1], "nice": false}, "axis": {"orient": "left", "domain": true, "values": [0,0.2,0.4,0.6,0.8,1.0], "tickSize": -7, "format": ".1f", "labelPadding": 13, "labelOffset": {"condition": {"test": "datum.value === 0", "value": -5}, "value": 0}, "title": "normalized flux", "titlePadding": 11}}}},
   {"data": {"name": "lab"}, "transform": [{"filter": "datum.p == 'BL' && datum.k == 'name'"}], "mark": {"type": "text", "fontSize": 26, "align": "left", "baseline": "middle"},
    "encoding": {
     "x": {"field": "x", "type": "quantitative", "scale": {"domain": [2885, 7605], "nice": false}, "axis": {"orient": "bottom", "values": [3200,3400,3600,3800,4200,4400,4600,4800,5200,5400,5600,5800,6200,6400,6600,6800,7200,7400,7600], "tickSize": -4, "labels": false, "title": null}},
     "y": {"field": "y", "type": "quantitative", "scale": {"domain": [0, 1.1], "nice": false}, "axis": {"orient": "left", "values": [0.05,0.1,0.15,0.25,0.3,0.35,0.45,0.5,0.55,0.65,0.7,0.75,0.85,0.9,0.95,1.05], "tickSize": -4, "labels": false, "title": null}},
     "text": {"field": "t"}}},
   {"data": {"name": "tk"}, "transform": [{"filter": "datum.p == 'BL'"}], "mark": {"type": "rule", "color": "black", "strokeWidth": 1},
    "encoding": {
     "x": {"field": "x", "type": "quantitative", "scale": {"domain": [2885, 7605], "nice": false}, "axis": {"orient": "top", "domain": true, "values": [3000,4000,5000,6000,7000], "tickSize": -7, "labels": false, "title": null}},
     "y": {"field": "y", "type": "quantitative", "scale": {"domain": [0, 1.1], "nice": false}, "axis": {"orient": "right", "domain": true, "values": [0,0.2,0.4,0.6,0.8,1.0], "tickSize": -7, "labels": false, "title": null}},
     "y2": {"field": "y2"}}},
   {"data": {"name": "lab"}, "transform": [{"filter": "datum.p == 'BL' && datum.k == 'ann'"}], "mark": {"type": "text", "fontSize": 21, "align": "center", "baseline": "middle"},
    "encoding": {
     "x": {"field": "x", "type": "quantitative", "scale": {"domain": [2885, 7605], "nice": false}, "axis": {"orient": "top", "values": [3200,3400,3600,3800,4200,4400,4600,4800,5200,5400,5600,5800,6200,6400,6600,6800,7200,7400,7600], "tickSize": -4, "labels": false, "title": null}},
     "y": {"field": "y", "type": "quantitative", "scale": {"domain": [0, 1.1], "nice": false}, "axis": {"orient": "right", "values": [0.05,0.1,0.15,0.25,0.3,0.35,0.45,0.5,0.55,0.65,0.7,0.75,0.85,0.9,0.95,1.05], "tickSize": -4, "labels": false, "title": null}},
     "text": {"field": "t"}}}
  ]},
 {"width": 515, "height": 367, "resolve": {"axis": {"x": "independent", "y": "independent"}},
  "layer": [
   {"data": {"name": "i2"}, "mark": {"type": "line", "color": "black", "strokeWidth": 1, "clip": true},
    "encoding": {
     "x": {"field": "x", "type": "quantitative", "scale": {"domain": [4, 30], "nice": false}, "axis": {"orient": "bottom", "domain": true, "values": [5,10,15,20,25,30], "tickSize": -7, "labelPadding": 19, "format": "d", "title": "λᵣₑₛₜ [μm]", "titlePadding": 2}},
     "y": {"field": "y", "type": "quantitative", "scale": {"domain": [0, 1.1], "nice": false}, "axis": {"orient": "right", "domain": true, "values": [0,0.2,0.4,0.6,0.8,1.0], "tickSize": -7, "format": ".1f", "labelPadding": 14, "labelOffset": {"condition": {"test": "datum.value === 0", "value": -5}, "value": 0}, "title": "normalized νFᵥ", "titleAngle": 270, "titlePadding": 31}}}},
   {"data": {"name": "lab"}, "transform": [{"filter": "datum.p == 'BR' && datum.k == 'name'"}], "mark": {"type": "text", "fontSize": 26, "align": "left", "baseline": "middle"},
    "encoding": {
     "x": {"field": "x", "type": "quantitative", "scale": {"domain": [4, 30], "nice": false}, "axis": {"orient": "bottom", "values": [6,7,8,9,11,12,13,14,16,17,18,19,21,22,23,24,26,27,28,29], "tickSize": -4, "labels": false, "title": null}},
     "y": {"field": "y", "type": "quantitative", "scale": {"domain": [0, 1.1], "nice": false}, "axis": {"orient": "right", "values": [0.05,0.1,0.15,0.25,0.3,0.35,0.45,0.5,0.55,0.65,0.7,0.75,0.85,0.9,0.95,1.05], "tickSize": -4, "labels": false, "title": null}},
     "text": {"field": "t"}}},
   {"data": {"name": "tk"}, "transform": [{"filter": "datum.p == 'BR'"}], "mark": {"type": "rule", "color": "black", "strokeWidth": 1},
    "encoding": {
     "x": {"field": "x", "type": "quantitative", "scale": {"domain": [4, 30], "nice": false}, "axis": {"orient": "top", "domain": true, "values": [5,10,15,20,25,30], "tickSize": -7, "labels": false, "title": null}},
     "y": {"field": "y", "type": "quantitative", "scale": {"domain": [0, 1.1], "nice": false}, "axis": {"orient": "left", "domain": true, "values": [0,0.2,0.4,0.6,0.8,1.0], "tickSize": -7, "labels": false, "title": null}},
     "y2": {"field": "y2"}}},
   {"data": {"name": "lab"}, "transform": [{"filter": "datum.p == 'BR' && datum.k == 'ann'"}], "mark": {"type": "text", "fontSize": 21, "align": "center", "baseline": "middle"},
    "encoding": {
     "x": {"field": "x", "type": "quantitative", "scale": {"domain": [4, 30], "nice": false}, "axis": {"orient": "top", "values": [6,7,8,9,11,12,13,14,16,17,18,19,21,22,23,24,26,27,28,29], "tickSize": -4, "labels": false, "title": null}},
     "y": {"field": "y", "type": "quantitative", "scale": {"domain": [0, 1.1], "nice": false}, "axis": {"orient": "left", "values": [0.05,0.1,0.15,0.25,0.3,0.35,0.45,0.5,0.55,0.65,0.7,0.75,0.85,0.9,0.95,1.05], "tickSize": -4, "labels": false, "title": null}},
     "text": {"field": "t"}}},
   {"data": {"name": "lab"}, "transform": [{"filter": "datum.p == 'BR' && datum.k == 'big'"}], "mark": {"type": "text", "fontSize": 27, "align": "center", "baseline": "middle"},
    "encoding": {
     "x": {"field": "x", "type": "quantitative", "scale": {"domain": [4, 30], "nice": false}, "axis": null},
     "y": {"field": "y", "type": "quantitative", "scale": {"domain": [0, 1.1], "nice": false}, "axis": null},
     "text": {"field": "t"}}}
  ]}
]
}
